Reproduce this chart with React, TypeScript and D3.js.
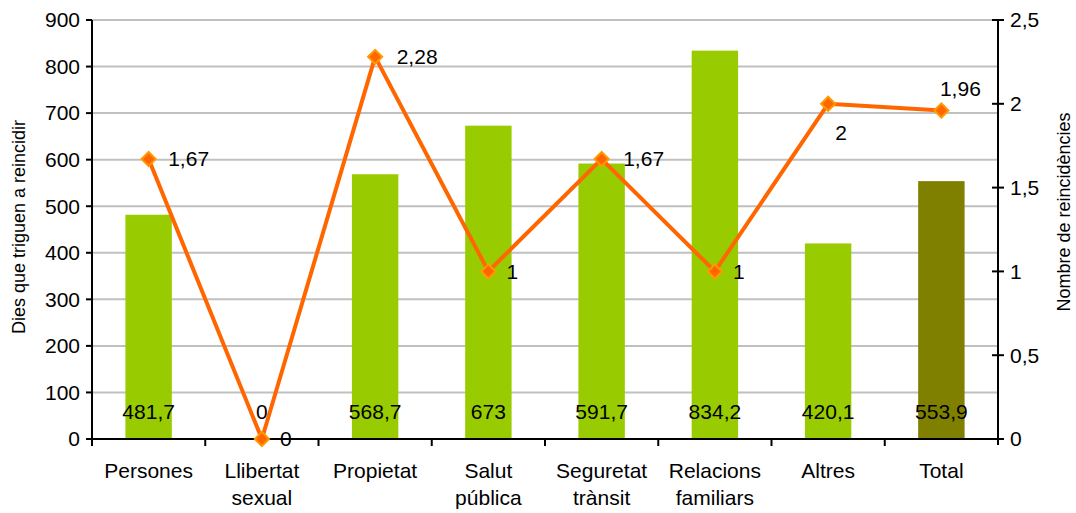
import React from "react";
import * as d3 from "d3";

const categories: string[][] = [
  ["Persones"],
  ["Llibertat", "sexual"],
  ["Propietat"],
  ["Salut", "pública"],
  ["Seguretat", "trànsit"],
  ["Relacions", "familiars"],
  ["Altres"],
  ["Total"],
];
const dies: number[] = [481.7, 0, 568.7, 673, 591.7, 834.2, 420.1, 553.9];
const reincidencies: number[] = [1.67, 0, 2.28, 1, 1.67, 1, 2, 1.96];
const leftTicks: number[] = [0, 100, 200, 300, 400, 500, 600, 700, 800, 900];
const rightTicks: number[] = [0, 0.5, 1, 1.5, 2, 2.5];
const leftTitle = "Dies que triguen a reincidir";
const rightTitle = "Nombre de reincidències";

// label placement for line labels: [dx, dy] of the text centre relative to marker
const lineLabelOffsets: [number, number][] = [
  [40, 0], [24, 0], [42, 0], [24, 0], [42, 0], [24, 0], [13, 29], [19, -22],
];

const fmt = (v: number) => String(v).replace(".", ",");

export default function App() {
  const W = 1076, H = 513;
  const left = 92, right = 998, top = 20, bottom = 439;
  const x = d3.scaleBand<number>().domain(d3.range(categories.length)).range([left, right]).paddingInner(0.59).paddingOuter(0.295);
  const band = d3.scaleBand<number>().domain(d3.range(categories.length)).range([left, right]);
  const yL = d3.scaleLinear().domain([0, 900]).range([bottom, top]);
  const yR = d3.scaleLinear().domain([0, 2.5]).range([bottom, top]);
  const cx = (i: number) => (band(i) as number) + band.bandwidth() / 2;
  const line = d3.line<number>().x((_, i) => cx(i)).y((d) => yR(d));
  const font = "Liberation Sans, Arial, sans-serif";
  const fs = 21;
  return (
    <svg width={W} height={H} style={{ position: "absolute", left: 0, top: 0, background: "#fff" }} fontFamily={font}>
      {leftTicks.map((t) => (
        <line key={"g" + t} x1={left} x2={right} y1={yL(t)} y2={yL(t)} stroke="#c0c0c0" strokeWidth={2} />
      ))}
      {dies.map((d, i) => (
        <rect key={"b" + i} x={x(i)} y={yL(d)} width={x.bandwidth()} height={bottom - yL(d)} fill={i === dies.length - 1 ? "#808000" : "#99cc00"} />
      ))}
      {/* left axis */}
      <line x1={left} x2={left} y1={top} y2={bottom + 6} stroke="#000" strokeWidth={2} />
      {leftTicks.map((t) => (
        <g key={"lt" + t}>
          <line x1={left - 6} x2={left} y1={yL(t)} y2={yL(t)} stroke="#000" strokeWidth={2} />
          <text x={left - 12} y={yL(t)} dy="0.35em" textAnchor="end" fontSize={fs}>{t}</text>
        </g>
      ))}
      {/* right axis */}
      <line x1={right} x2={right} y1={top} y2={bottom + 6} stroke="#000" strokeWidth={2} />
      {rightTicks.map((t) => (
        <g key={"rt" + t}>
          <line x1={right - 6} x2={right + 6} y1={yR(t)} y2={yR(t)} stroke="#000" strokeWidth={2} />
          <text x={right + 12} y={yR(t)} dy="0.35em" textAnchor="start" fontSize={fs}>{fmt(t)}</text>
        </g>
      ))}
      {/* x axis */}
      <line x1={left} x2={right} y1={bottom} y2={bottom} stroke="#000" strokeWidth={2} />
      {categories.map((c, i) => (
        <g key={"c" + i}>
          <line x1={band(i) as number} x2={band(i) as number} y1={bottom} y2={bottom + 7} stroke="#000" strokeWidth={2} />
          <text x={cx(i)} y={471} textAnchor="middle" fontSize={fs}>
            {c.map((l, k) => (
              <tspan key={k} x={cx(i)} dy={k === 0 ? "0.35em" : "1.25em"}>{l}</tspan>
            ))}
          </text>
        </g>
      ))}
      {/* bar labels */}
      {dies.map((d, i) => (
        <text key={"bl" + i} x={cx(i)} y={412} dy="0.35em" textAnchor="middle" fontSize={fs}>{fmt(d)}</text>
      ))}
      {/* line */}
      <path d={line(reincidencies) as string} fill="none" stroke="#ff6600" strokeWidth={4} strokeLinejoin="round" />
      {reincidencies.map((v, i) => (
        <rect key={"m" + i} x={cx(i) - 5} y={yR(v) - 5} width={10} height={10} transform={`rotate(45 ${cx(i)} ${yR(v)})`} fill="#ff6600" stroke="#ff9900" strokeWidth={2} />
      ))}
      {reincidencies.map((v, i) => (
        <text key={"ll" + i} x={cx(i) + lineLabelOffsets[i][0]} y={yR(v) + lineLabelOffsets[i][1]} dy="0.35em" textAnchor="middle" fontSize={fs}>{fmt(v)}</text>
      ))}
      {/* axis titles */}
      <text transform={`translate(19,227) rotate(-90)`} textAnchor="middle" dy="0.35em" fontSize={18}>{leftTitle}</text>
      <text transform={`translate(1064,212) rotate(-90)`} textAnchor="middle" dy="0.35em" fontSize={18}>{rightTitle}</text>
    </svg>
  );
}
